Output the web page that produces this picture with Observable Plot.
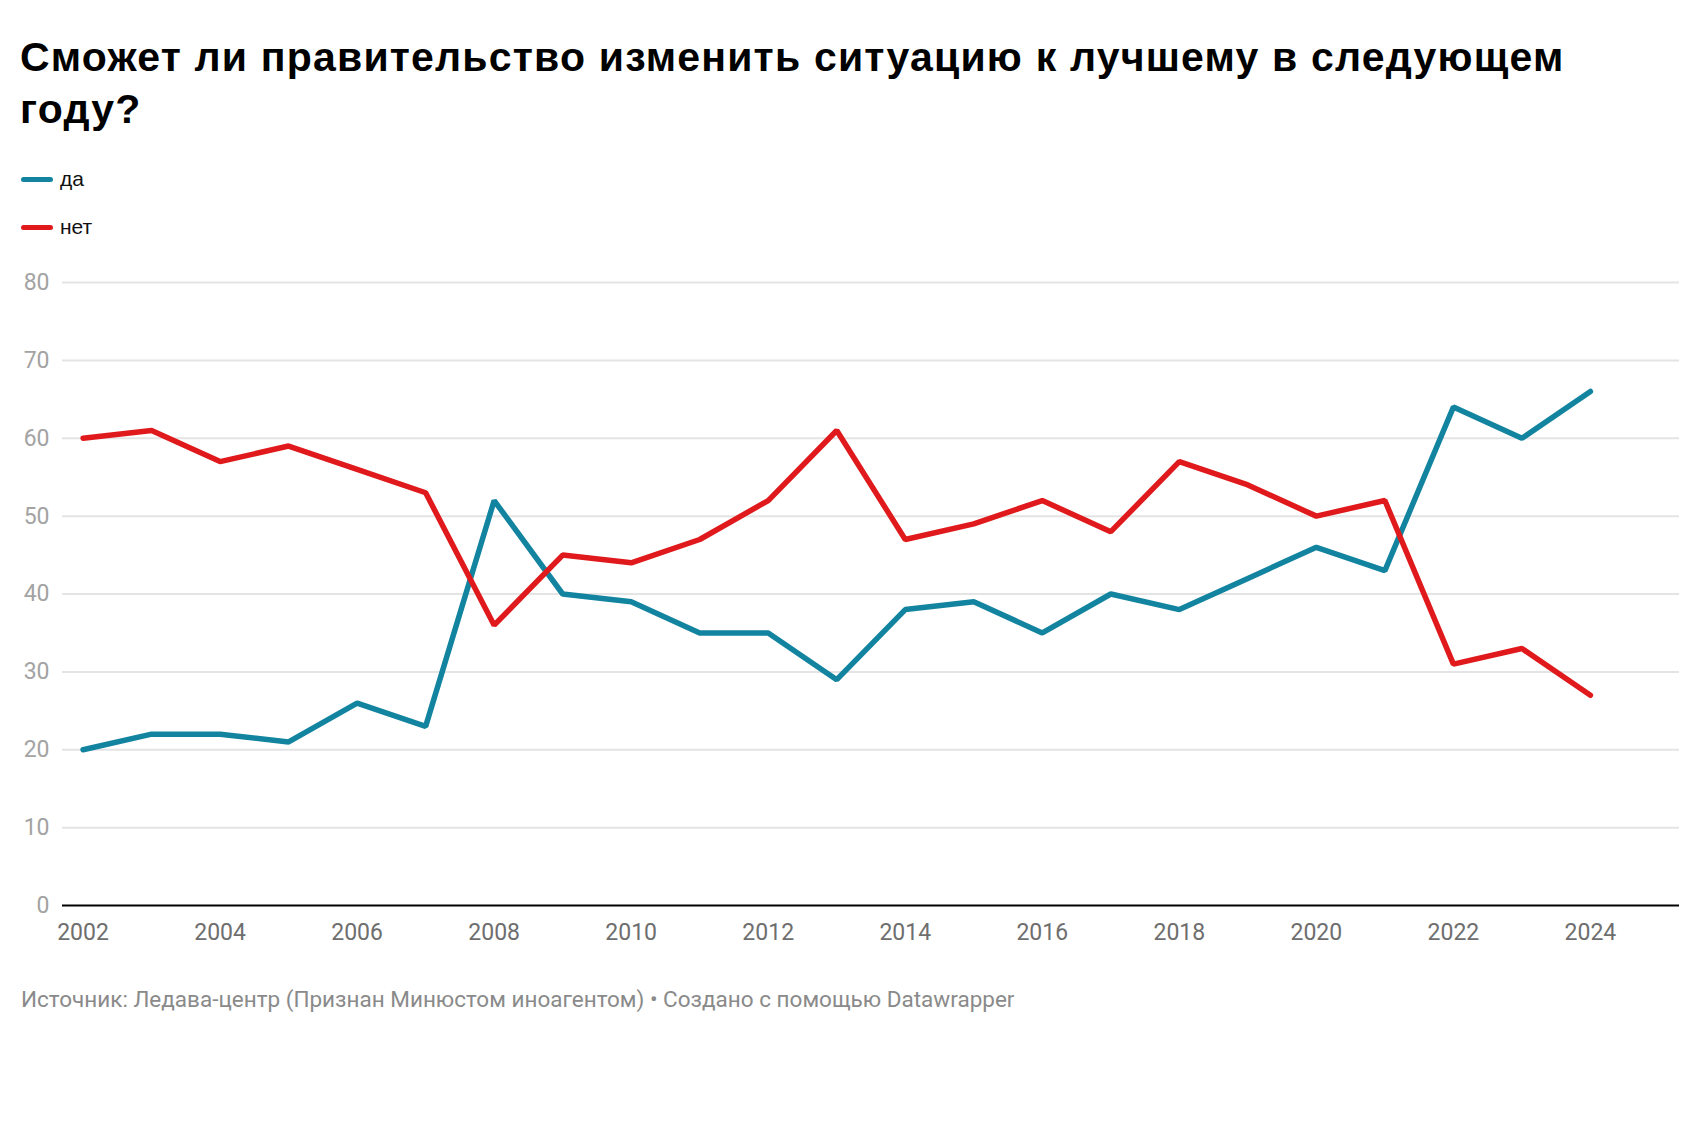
<!DOCTYPE html>
<html lang="ru">
<head>
<meta charset="utf-8">
<script src="https://cdn.jsdelivr.net/npm/d3@7"></script>
<script src="https://cdn.jsdelivr.net/npm/@observablehq/plot@0.6"></script>
<style>
  html, body { margin: 0; padding: 0; background: #fff; }
  #page { position: relative; width: 1701px; height: 1122px; overflow: hidden; }
  #title {
    position: absolute; left: 20px; top: 31px; width: 1600px;
    font-family: "Liberation Sans", Arial, sans-serif; font-weight: 700;
    font-size: 41px; line-height: 52px; color: #000; letter-spacing: 1.2px;
  }
  .legend-item {
    position: absolute; left: 21px; height: 24px;
    display: flex; align-items: center;
    font-family: "Liberation Sans", Arial, sans-serif; font-size: 21px; color: #111;
  }
  .legend-item .sw { width: 32px; height: 5px; border-radius: 3px; margin-right: 7px; }
  #chart { position: absolute; left: 0; top: 240px; }
  #footer {
    position: absolute; left: 21px; top: 986px;
    font-family: Roboto, sans-serif; font-size: 22.5px; color: #8a8a8a;
  }
</style>
</head>
<body>
<div id="page">
  <div id="title"></div>
  <div id="legend"></div>
  <div id="chart"></div>
  <div id="footer"></div>
</div>
<script>
// Survey years and shares of answers (%)
const years = [2002, 2003, 2004, 2005, 2006, 2007, 2008, 2009, 2010, 2011, 2012, 2013,
               2014, 2015, 2016, 2017, 2018, 2019, 2020, 2021, 2022, 2023, 2024];
const yesValues = [20, 22, 22, 21, 26, 23, 52, 40, 39, 35, 35, 29,
                   38, 39, 35, 40, 38, 42, 46, 43, 64, 60, 66];
const noValues  = [60, 61, 57, 59, 56, 53, 36, 45, 44, 47, 52, 61,
                   47, 49, 52, 48, 57, 54, 50, 52, 31, 33, 27];

const seriesNames = ["да", "нет"];
const seriesColors = ["#12849f", "#e01a1c"];

const xTicks = [2002, 2004, 2006, 2008, 2010, 2012, 2014, 2016, 2018, 2020, 2022, 2024];
const yTicks = [0, 10, 20, 30, 40, 50, 60, 70, 80];

const titleText = "Сможет ли правительство изменить ситуацию к лучшему в следующем году?";
const footerText = "Источник: Ледава-центр (Признан Минюстом иноагентом) • Создано с помощью Datawrapper";

document.getElementById("title").textContent = titleText;
document.getElementById("footer").textContent = footerText;

// Legend
const legend = document.getElementById("legend");
seriesNames.forEach((name, i) => {
  const item = document.createElement("div");
  item.className = "legend-item";
  item.style.top = (167 + i * 48) + "px";
  const sw = document.createElement("span");
  sw.className = "sw";
  sw.style.background = seriesColors[i];
  const label = document.createElement("span");
  label.textContent = name;
  item.appendChild(sw);
  item.appendChild(label);
  legend.appendChild(item);
});

// Long table for the line marks
const rows = [];
years.forEach((year, i) => {
  rows.push({year, value: yesValues[i], series: seriesNames[0]});
  rows.push({year, value: noValues[i], series: seriesNames[1]});
});

const chart = Plot.plot({
  width: 1701,
  height: 720,
  marginLeft: 62,
  marginRight: 22,
  marginTop: 42,
  marginBottom: 55,
  style: {background: "transparent", fontFamily: "Roboto, sans-serif"},
  x: {domain: [2001.7, 2025.3]},
  y: {domain: [0, 80]},
  color: {domain: seriesNames, range: seriesColors},
  marks: [
    Plot.gridY(yTicks.filter(d => d > 0), {stroke: "#e4e4e4", strokeOpacity: 1, strokeWidth: 2}),
    Plot.axisY(yTicks, {
      tickSize: 0, tickPadding: 13, fontSize: 23, fill: "#a3a3a3",
      label: null
    }),
    Plot.axisX(xTicks, {
      tickSize: 0, tickPadding: 18, fontSize: 23, fill: "#6e6e6e",
      tickFormat: d => String(d), label: null
    }),
    Plot.ruleY([0], {stroke: "#000", strokeWidth: 2}),
    Plot.line(rows, {
      x: "year", y: "value", stroke: "series", z: "series",
      strokeWidth: 5.5, strokeLinejoin: "miter", strokeLinecap: "round"
    })
  ]
});
document.getElementById("chart").appendChild(chart);
</script>
</body>
</html>
